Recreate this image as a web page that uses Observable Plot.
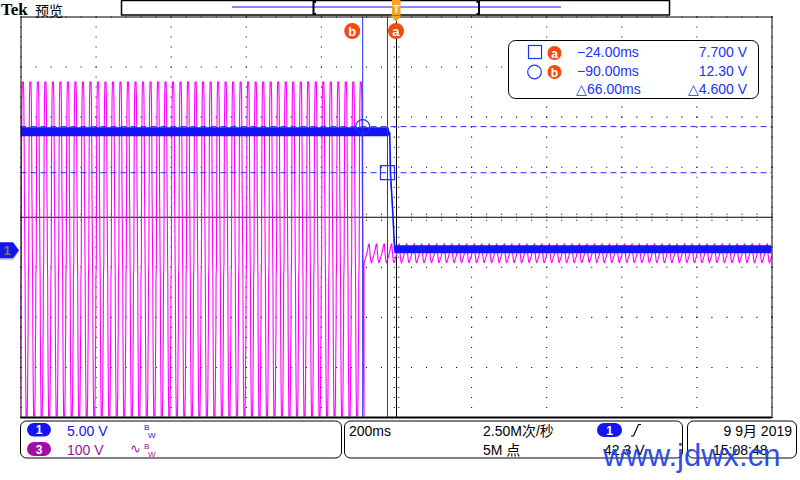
<!DOCTYPE html>
<html><head><meta charset="utf-8">
<script src="https://cdn.jsdelivr.net/npm/d3@7"></script>
<script src="https://cdn.jsdelivr.net/npm/@observablehq/plot@0.6"></script>
<style>
html,body{margin:0;padding:0;background:#fff;}
#chart{width:800px;height:480px;overflow:hidden;position:relative;}
svg{display:block;overflow:visible;}
</style></head><body><div id="chart"></div>
<script>
// ---- scope settings ----
const timeDomain = [-1000, 1000];      // ms, 200 ms/div, 10 div
const ch1VoltsPerDiv = 5;
const ch3VoltsPerDiv = 100;
const groundOffsetDiv = -0.65;         // ground marker "1" below the centre line
const cursorLabels = ["a", "b"];
const cursorTimes = [-24, -90];        // ms
const cursorVolts = [7.7, 12.3];       // V (ch1)
const readTimes = ["\u221224.00ms", "\u221290.00ms", "\u25b366.00ms"];
const readVolts = ["7.700 V", "12.30 V", "\u25b34.600 V"];

// ---- ch1 (blue) trace: band low / high ----
const ch1Time = [-1000, -20.5, -18, -16, -11.5, -9, -7, -4.5, 1000];
const ch1High = [12.2, 12.2, 11.9, 7.8, 5.0, 3.3, 1.7, 0.4, 0.4];
const ch1Low  = [11.3, 11.3, 11.5, 7.4, 4.7, 3.0, 1.4, -0.4, -0.4];

// ---- ch3 (magenta) stepped mains waveform, one 20 ms cycle ----
const ch3Period = 20;
const ch3CyclePhase = [0, 3, 4, 5, 5.5, 6, 7, 7.5, 8, 9, 10, 13, 14, 15, 15.5, 16, 17, 17.5, 18, 19];
const ch3CycleVolts = [335, 335, 300, 208, 114, 84, -26, -58, -162, -268, -332, -332, -288, -192, -162, -58, -26, 84, 208, 300];
const ch3CycleStarts = [-1016.5, -96.5];   // first and last cycle shown
const ch3LastCycleEndPhase = 10;
// residual ripple after the supply drops out
const ch3RipplePhase = [0, 5, 9, 12, 14, 16, 18];
const ch3RippleVolts = [-26, -14, -2, 10, 12, -8, -22];
const ch3RippleStart = -86.5;

// ---- readout texts ----
const ch1Scale = "5.00 V", ch3Scale = "100 V";
const timeBase = "200ms", sampleRate = "2.50M次/秒", recordLen = "5M 点";
const trigLevel = "42.3 V", dateText = "9 9月 2019", timeText = "15:08:48";

// ---- build tables ----
const ch1 = ch1Time.map((t, i) => ({t, lo: ch1Low[i], hi: ch1High[i]}));
const ch3 = [];
const nCycles = Math.round((ch3CycleStarts[1] - ch3CycleStarts[0]) / ch3Period);
for (let k = 0; k <= nCycles; k++) {
  const c = ch3CycleStarts[0] + k * ch3Period;
  ch3CyclePhase.forEach((p, i) => {
    if (k === nCycles && p > ch3LastCycleEndPhase) return;
    ch3.push({t: c + p, v: ch3CycleVolts[i]});
  });
}
for (let c = ch3RippleStart; c < timeDomain[1] + ch3Period; c += ch3Period) {
  ch3RipplePhase.forEach((p, i) => ch3.push({t: c + p, v: ch3RippleVolts[i]}));
}
const d1 = v => v / ch1VoltsPerDiv + groundOffsetDiv;
const d3v = v => v / ch3VoltsPerDiv + groundOffsetDiv;

// graticule dots
const grid = [];
for (let k = -4; k <= 4; k++) for (let j = 0; j <= 50; j++) grid.push({t: -1000 + j * 40, d: k});
for (let k = 0; k <= 10; k++) for (let j = 0; j <= 40; j++) grid.push({t: -1000 + k * 200, d: -4 + j * 0.2});
for (let j = 0; j <= 40; j++) { grid.push({t: -6, d: -4 + j * 0.2}); grid.push({t: 6, d: -4 + j * 0.2}); }
for (let j = 0; j <= 50; j++) { grid.push({t: -1000 + j * 40, d: -0.06}); grid.push({t: -1000 + j * 40, d: 0.06}); }

const BLUE = "#1414f5", MAG = "#ff00ff", CUR = "#2030ff", ORG = "#f24a10";

const chart = Plot.plot({
  width: 800, height: 480,
  marginLeft: 20.5, marginRight: 28.5, marginTop: 16.5, marginBottom: 63,
  x: {domain: timeDomain, axis: null},
  y: {domain: [-4, 4], axis: null},
  style: {background: "white", fontFamily: "Liberation Sans", overflow: "visible"},
  marks: [
    Plot.dot(grid, {x: "t", y: "d", r: 0.6, symbol: "square", fill: "black"}),
    Plot.ruleX([0], {stroke: "black"}),
    Plot.ruleY([0], {stroke: "black"}),
    Plot.line(ch3, {x: "t", y: d => d3v(d.v), stroke: MAG, strokeWidth: 1.1, clip: true}),
    Plot.areaY(ch1, {x: "t", y1: d => d1(d.lo), y2: d => d1(d.hi), fill: BLUE, clip: true}),
    Plot.line(ch1, {x: "t", y: d => d1((d.lo + d.hi) / 2), stroke: BLUE, strokeWidth: 1.6, clip: true}),
    Plot.ruleY(cursorVolts, {y: v => d1(v), stroke: CUR, strokeDasharray: "6,4"}),
    Plot.ruleX(cursorTimes, {stroke: CUR}),
    Plot.dot([0], {x: () => cursorTimes[0], y: () => d1(cursorVolts[0]), symbol: "square", r: 7.9, stroke: CUR, fill: "none", strokeWidth: 1.2}),
    Plot.dot([0], {x: () => cursorTimes[1], y: () => d1(cursorVolts[1]), symbol: "circle", r: 7, stroke: CUR, fill: "none", strokeWidth: 1.2}),
    Plot.frame({stroke: "black"}),
    Plot.ruleY([-4], {stroke: "black", strokeWidth: 2})
  ]
});
document.getElementById("chart").appendChild(chart);

const sx = chart.scale("x"), sy = chart.scale("y");
const svg = d3.select(chart);
const F = "Liberation Sans, Arial, sans-serif";
const txt = (x, y, s, o = {}) => svg.append("text").attr("x", x).attr("y", y).text(s)
  .attr("font-family", o.family || F).attr("font-size", o.size || 14)
  .attr("font-weight", o.weight || "normal").attr("fill", o.fill || "black")
  .attr("text-anchor", o.anchor || "start");

// ---- header ----
txt(1, 15, "Tek", {family: "Liberation Serif, serif", size: 17, weight: "bold"});
txt(35, 15.5, "预览", {family: "Noto Sans CJK SC", size: 14});
svg.append("rect").attr("x", 121.5).attr("y", 0.5).attr("width", 548).attr("height", 14.5)
  .attr("fill", "white").attr("stroke", "black").attr("stroke-width", 1.5);
svg.append("line").attr("x1", 232).attr("x2", 561).attr("y1", 7).attr("y2", 7).attr("stroke", BLUE);
svg.append("path").attr("d", "M316,2 H313.5 V14 H316").attr("fill", "none").attr("stroke", "black").attr("stroke-width", 2);
svg.append("path").attr("d", "M476.5,2 H479 V14 H476.5").attr("fill", "none").attr("stroke", "black").attr("stroke-width", 2);
const x0 = sx.apply(0);
svg.append("rect").attr("x", x0 - 4).attr("y", 0).attr("width", 8.5).attr("height", 15).attr("fill", "#f6a21d");
txt(x0 + 0.3, 12.5, "T", {size: 11, weight: "bold", fill: "#fff3d0", anchor: "middle"});
svg.append("path").attr("d", `M${x0 - 5.5},15.5 L${x0 + 5.5},15.5 L${x0},22 Z`).attr("fill", "#f6a21d");
// cursor badges at top
[[cursorTimes[0], 9, cursorLabels[0]], [cursorTimes[1], -10, cursorLabels[1]]].forEach(([t, dx, l]) => {
  const cx = sx.apply(t) + dx;
  svg.append("circle").attr("cx", cx).attr("cy", 31).attr("r", 8).attr("fill", ORG);
  txt(cx, 35.5, l, {size: 13, weight: "bold", fill: "white", anchor: "middle"});
});

// ---- cursor readout box ----
svg.append("rect").attr("x", 508.5).attr("y", 40.5).attr("width", 250).attr("height", 58).attr("rx", 7)
  .attr("fill", "white").attr("stroke", "black");
svg.append("rect").attr("x", 528.5).attr("y", 45.5).attr("width", 13).attr("height", 13)
  .attr("fill", "none").attr("stroke", CUR).attr("stroke-width", 1.2);
svg.append("circle").attr("cx", 534.5).attr("cy", 72).attr("r", 6.8).attr("fill", "none").attr("stroke", CUR).attr("stroke-width", 1.2);
[[53, "a"], [72, "b"]].forEach(([cy, l]) => {
  svg.append("circle").attr("cx", 554.5).attr("cy", cy).attr("r", 7).attr("fill", ORG);
  txt(554.5, cy + 4.5, l, {size: 12, weight: "bold", fill: "white", anchor: "middle"});
});
[57, 76, 94].forEach((y, i) => {
  txt(i === 2 ? 576 : 577, y, readTimes[i], {fill: CUR});
  txt(747, y, readVolts[i], {fill: CUR, anchor: "end"});
});

// ---- ground marker ----
const yg = sy.apply(d1(0)) + 1;
svg.append("path").attr("d", `M0,${yg - 6} H13 L19,${yg + 2} L13,${yg + 10} H0 Z`).attr("fill", "#d8c8d0");
svg.append("path").attr("d", `M0,${yg - 8} H13 L19,${yg} L13,${yg + 8} H0 Z`).attr("fill", BLUE);
txt(7, yg + 5, "1", {size: 13, weight: "bold", fill: "#777", anchor: "middle"});

// ---- bottom readouts ----
const box = (x, w) => svg.append("rect").attr("x", x).attr("y", 421).attr("width", w).attr("height", 37)
  .attr("rx", 6).attr("fill", "white").attr("stroke", "black");
box(20.5, 321); box(344.5, 338); box(687.5, 109);
const pill = (x, y, w, h, c, l) => {
  svg.append("rect").attr("x", x).attr("y", y).attr("width", w).attr("height", h).attr("rx", h / 2).attr("fill", c);
  txt(x + w / 2, y + h - 2.5, l, {size: 12, weight: "bold", fill: "white", anchor: "middle"});
};
pill(27, 423, 24, 13.5, BLUE, "1");
pill(27, 442, 24, 14, "#a010a0", "3");
txt(67, 436, ch1Scale, {fill: BLUE});
txt(67, 455, ch3Scale, {fill: "#a010a0"});
txt(144, 430, "B", {size: 8, fill: BLUE}); txt(148, 438, "W", {size: 8, fill: BLUE});
txt(130, 453, "\u223f", {size: 13, fill: "#a010a0"});
txt(144, 449, "B", {size: 8, fill: "#a010a0"}); txt(148, 457, "W", {size: 8, fill: "#a010a0"});
txt(349, 436, timeBase);
txt(483, 436, sampleRate, {family: "Liberation Sans, Noto Sans CJK SC"});
txt(483, 455, recordLen, {family: "Liberation Sans, Noto Sans CJK SC"});
pill(597, 423, 25, 14, BLUE, "1");
svg.append("path").attr("d", "M631,436 H633.5 L638.5,424.5 H641").attr("fill", "none").attr("stroke", "black").attr("stroke-width", 1.2);
txt(604, 455, trigLevel);
txt(792, 436, dateText, {anchor: "end", family: "Liberation Sans, Noto Sans CJK SC"});
txt(713, 455, timeText);

// ---- watermark ----
txt(603, 466, "www.jdwx.cn", {size: 31, fill: "#1f3fe6"}).attr("opacity", 0.92);
</script></body></html>
